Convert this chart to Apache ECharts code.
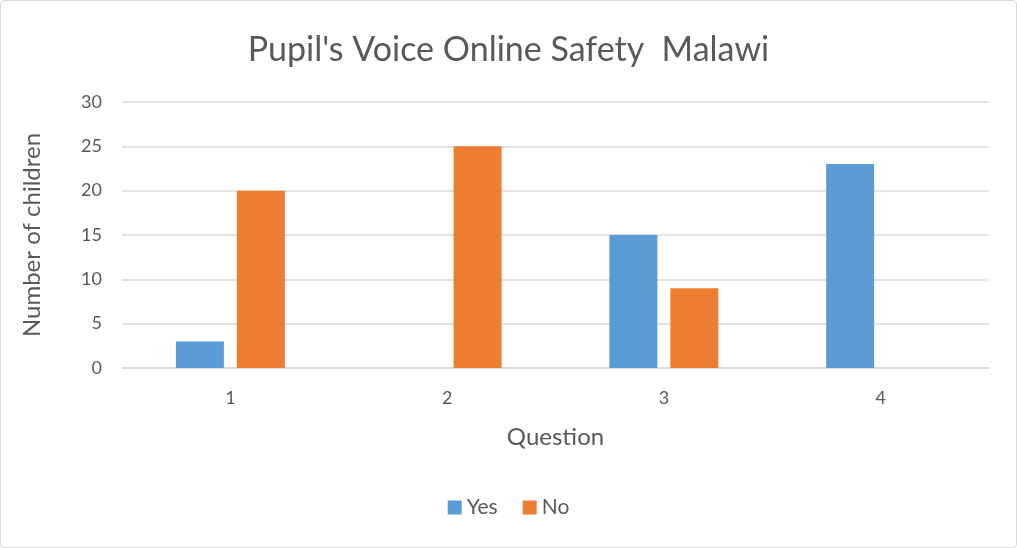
<!DOCTYPE html>
<html>
<head>
<meta charset="utf-8">
<script src="https://cdn.jsdelivr.net/npm/echarts@6/dist/echarts.min.js"></script>
<style>
  html, body { margin: 0; padding: 0; background: #fff; }
  #chart { width: 1017px; height: 548px; box-sizing: border-box; border: 1px solid #d9d9d9; border-radius: 4px; }
</style>
</head>
<body>
<div id="chart"></div>
<script>
const categories = ["1", "2", "3", "4"];
const yesValues = [3, 0, 15, 23];
const noValues = [20, 25, 9, 0];

const chart = echarts.init(document.getElementById("chart"));
const font = "Lato, 'Open Sans', sans-serif";

chart.setOption({
  animation: false,
  textStyle: { fontFamily: font },
  title: {
    text: "Pupil's Voice Online Safety  Malawi",
    left: "center",
    top: 27,
    textStyle: { fontFamily: font, fontSize: 34, fontWeight: "normal", color: "#595959" },
  },
  legend: {
    bottom: 24,
    left: "center",
    itemWidth: 14,
    itemHeight: 14,
    itemGap: 25,
    icon: "rect",
    textStyle: { fontFamily: font, fontSize: 21, color: "#595959" },
    data: ["Yes", "No"],
  },
  grid: { left: 121, right: 27, top: 101, bottom: 179 },
  xAxis: {
    type: "category",
    data: categories,
    name: "Question",
    nameLocation: "middle",
    nameGap: 57,
    nameTextStyle: { fontSize: 24, color: "#595959" },
    axisTick: { show: false },
    axisLine: { lineStyle: { color: "#d9d9d9", width: 1.5 } },
    axisLabel: { fontSize: 18, color: "#595959", margin: 21 },
  },
  yAxis: {
    type: "value",
    min: 0,
    max: 30,
    interval: 5,
    name: "Number of children",
    nameLocation: "middle",
    nameGap: 78,
    nameTextStyle: { fontSize: 24, color: "#595959" },
    axisLabel: { fontSize: 18, color: "#595959", margin: 20 },
    splitLine: { lineStyle: { color: "#d9d9d9", width: 1.5 } },
  },
  series: [
    {
      name: "Yes",
      type: "bar",
      data: yesValues,
      barWidth: 48,
      barGap: "27%",
      itemStyle: { color: "#5b9bd5" },
    },
    {
      name: "No",
      type: "bar",
      data: noValues,
      barWidth: 48,
      itemStyle: { color: "#ed7d31" },
    },
  ],
});
</script>
</body>
</html>
